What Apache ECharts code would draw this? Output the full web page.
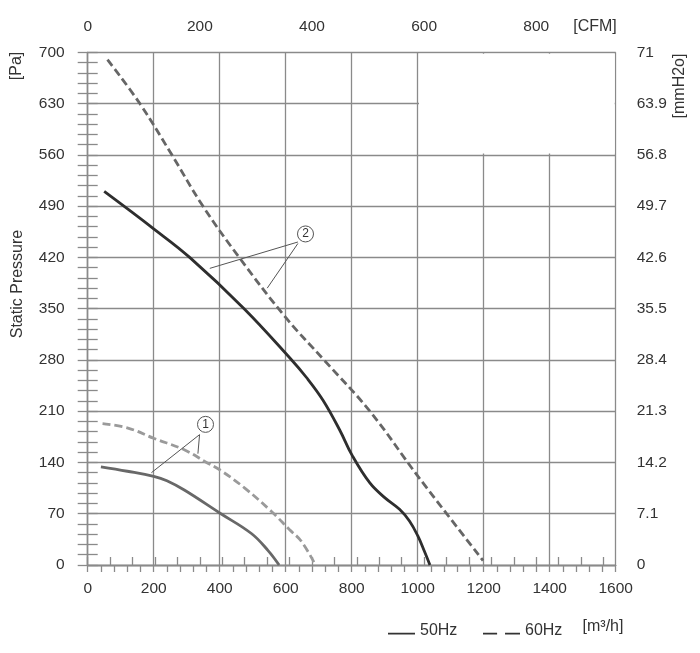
<!DOCTYPE html>
<html>
<head>
<meta charset="utf-8">
<script src="https://cdn.jsdelivr.net/npm/echarts@6/dist/echarts.min.js"></script>
<style>
html,body{margin:0;padding:0;background:#fff;}
#chart{width:700px;height:653px;}
</style>
</head>
<body>
<div id="chart"></div>
<script>
// ---- data (airflow m³/h, static pressure Pa) ----
const curve1At50Hz = [[40,134],[120,128],[200,121],[240,115],[294,102],[400,71],[496,43],[546,20],[580,0]];
const curve1At60Hz = [[45,193],[122,187],[200,173],[294,157],[360,140],[400,130],[476,105],[557,73],[612,48],[648,32],[690,0]];
const curve2At50Hz = [[50,510],[200,459],[309,420],[474,350],[612,283],[663,256],[713,225],[764,184],[801,150],[855,112],[900,92],[945,76],[975,60],[1000,40],[1020,19],[1037,0]];
const curve2At60Hz = [[60,690],[158,630],[255,560],[349,490],[459,420],[600,338],[718,279],[855,210],[1001,121],[1198,6]];

// axis scales and tick labels
const flowMax = 1600;              // m³/h
const cfmMax = 941.7;              // 1600 m³/h in CFM
const cfmTickValues = [0,40,80,120,160,200,240,280,320,360,400,440,480,520,560,600,640,680,720,760,800,840,880,920];
const cfmLabelValues = [0,200,400,600,800];
const pressureMax = 700;           // Pa
const mmH2OMax = 71;               // mmH2O

// annotation anchors (data coordinates)
const note1Circle = [357, 192];
const note1Leaders = [[[339,178],[193,126]], [[339,178],[334,152]]];
const note2Circle = [660, 452];
const note2Leaders = [[[637,441],[370,405]], [[637,439],[544,378]]];
const blankBox = [[1004,562],[1597,698]];

const gridColor = '#8a8a8a';
const textColor = '#333';
const font = 'Liberation Sans';

function leaderData(list){
  return list.map(p => [{coord:p[0]},{coord:p[1]}]);
}
function circleMark(pos, txt){
  return {
    silent:true,
    animation:false,
    data:[{coord:pos, value:txt, symbol:'circle', symbolSize:16,
      itemStyle:{color:'#fff', borderColor:'#555', borderWidth:1},
      label:{show:true, position:'inside', formatter:txt, color:'#333', fontSize:12, fontFamily:font}}]
  };
}
function leaderMark(list){
  return {
    silent:true, symbol:['none','none'], animation:false,
    lineStyle:{color:'#555', width:1, type:'solid'},
    label:{show:false},
    data:leaderData(list)
  };
}

const chart = echarts.init(document.getElementById('chart'), null, {renderer:'canvas'});

const axisLineStyle = {color:gridColor, width:1.3};

const option = {
  animation:false,
  backgroundColor:'#fff',
  textStyle:{fontFamily:font},
  grid:{left:87.7, right:84.3, top:52.3, bottom:88, containLabel:false},
  xAxis:[
    {
      type:'value', position:'bottom', min:0, max:flowMax, interval:200,
      axisLine:{show:true, lineStyle:axisLineStyle},
      axisTick:{show:true, length:7, lineStyle:axisLineStyle},
      minorTick:{show:true, splitNumber:5, length:7, lineStyle:axisLineStyle},
      splitLine:{show:true, lineStyle:{color:gridColor, width:1.3}},
      axisLabel:{color:textColor, fontSize:15.5, margin:16, fontFamily:font, formatter:v => String(v)}
    },
    {
      type:'value', position:'top', min:0, max:cfmMax,
      axisLine:{show:true, lineStyle:axisLineStyle},
      axisTick:{show:true, length:8, customValues:cfmTickValues, lineStyle:axisLineStyle},
      splitLine:{show:false},
      axisLabel:{color:textColor, fontSize:15.5, margin:18, fontFamily:font, customValues:cfmLabelValues,
        formatter:v => String(v)}
    }
  ],
  yAxis:[
    {
      type:'value', position:'left', min:0, max:pressureMax, interval:70,
      axisLine:{show:true, lineStyle:axisLineStyle},
      axisTick:{show:true, length:10, lineStyle:axisLineStyle},
      minorTick:{show:true, splitNumber:5, length:10, lineStyle:axisLineStyle},
      splitLine:{show:true, lineStyle:{color:gridColor, width:1.3}},
      axisLabel:{color:textColor, fontSize:15.5, margin:23, fontFamily:font}
    },
    {
      type:'value', position:'right', min:0, max:mmH2OMax, interval:7.1,
      axisLine:{show:true, lineStyle:axisLineStyle},
      axisTick:{show:true, length:10, lineStyle:axisLineStyle},
      minorTick:{show:true, splitNumber:5, length:10, lineStyle:axisLineStyle},
      splitLine:{show:false},
      axisLabel:{color:textColor, fontSize:15.5, margin:21, fontFamily:font,
        formatter:v => String(Math.round(v*10)/10)}
    }
  ],
  legend:[
    {
      left:383, top:618, selectedMode:false, itemGap:0,
      itemWidth:27, itemHeight:8,
      textStyle:{color:textColor, fontSize:16, fontFamily:font},
      data:[{name:'50Hz', icon:'path://M0,-6L0.01,-6M0,0H32V2H0Z', itemStyle:{color:'#333', borderWidth:0}}]
    },
    {
      left:478, top:618, selectedMode:false, itemGap:0,
      itemWidth:37, itemHeight:8,
      textStyle:{color:textColor, fontSize:16, fontFamily:font},
      data:[{name:'60Hz', icon:'path://M0,-6L0.01,-6M0,0H16V2H0ZM25,0H42V2H25Z', itemStyle:{color:'#333', borderWidth:0}}]
    }
  ],
  graphic:[
    {type:'text', x:17, y:66, rotation:Math.PI/2,
      style:{text:'[Pa]', fill:textColor, font:'16px "Liberation Sans"', align:'center', verticalAlign:'middle'}},
    {type:'text', x:18, y:284, rotation:Math.PI/2,
      style:{text:'Static Pressure', fill:textColor, font:'16px "Liberation Sans"', align:'center', verticalAlign:'middle'}},
    {type:'text', x:680, y:86, rotation:Math.PI/2,
      style:{text:'[mmH2o]', fill:textColor, font:'16px "Liberation Sans"', align:'center', verticalAlign:'middle'}},
    {type:'text', x:595, y:27,
      style:{text:'[CFM]', fill:textColor, font:'16px "Liberation Sans"', align:'center', verticalAlign:'middle'}},
    {type:'text', x:603, y:627,
      style:{text:'[m³/h]', fill:textColor, font:'16px "Liberation Sans"', align:'center', verticalAlign:'middle'}}
  ],
  series:[
    {
      name:'50Hz', type:'line', xAxisIndex:0, yAxisIndex:0, data:curve1At50Hz,
      smooth:0.4, symbol:'none', z:4,
      lineStyle:{color:'#686868', width:2.8},
      itemStyle:{color:'#686868'},
      markLine:leaderMark(note1Leaders),
      markPoint:circleMark(note1Circle, '1')
    },
    {
      name:'60Hz', type:'line', xAxisIndex:0, yAxisIndex:0, data:curve1At60Hz,
      smooth:0.4, symbol:'none', z:3,
      lineStyle:{color:'#9a9a9a', width:2.8, type:[8,4]},
      itemStyle:{color:'#9a9a9a'}
    },
    {
      name:'50Hz', type:'line', xAxisIndex:0, yAxisIndex:0, data:curve2At50Hz,
      smooth:0.4, symbol:'none', z:4,
      lineStyle:{color:'#2e2e2e', width:2.8},
      itemStyle:{color:'#2e2e2e'},
      markLine:leaderMark(note2Leaders),
      markPoint:circleMark(note2Circle, '2')
    },
    {
      name:'60Hz', type:'line', xAxisIndex:0, yAxisIndex:0, data:curve2At60Hz,
      smooth:0.4, symbol:'none', z:3,
      lineStyle:{color:'#666666', width:2.8, type:[8,4]},
      itemStyle:{color:'#666666'},
      markArea:{silent:true, itemStyle:{color:'#ffffff'},
        data:[[{coord:blankBox[0]},{coord:blankBox[1]}]]}
    }
  ]
};
chart.setOption(option);
</script>
</body>
</html>
